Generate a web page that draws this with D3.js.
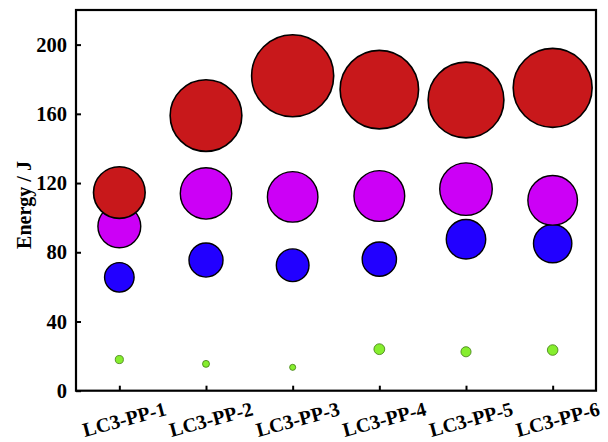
<!DOCTYPE html>
<html>
<head>
<meta charset="utf-8">
<script src="https://cdn.jsdelivr.net/npm/d3@7"></script>
<style>
  html, body { margin: 0; padding: 0; background: #fff; }
  svg { display: block; }
  text { font-family: "Liberation Serif", "Times New Roman", serif; font-weight: bold; fill: #000; }
</style>
</head>
<body>
<svg id="chart" width="608" height="442"></svg>
<script>
// Samples on the x axis
const categories = ["LC3-PP-1", "LC3-PP-2", "LC3-PP-3", "LC3-PP-4", "LC3-PP-5", "LC3-PP-6"];

// Energy values (J) per sample, one array per bubble series
const redValues     = [114.5, 159, 182, 174, 168, 175];
const magentaValues = [95, 114, 112, 112.5, 116.5, 110];
const blueValues    = [65.5, 75.5, 72.5, 76, 87.5, 85];
const greenValues   = [18, 15.5, 13.5, 24, 22.5, 23.5];

const yTicks = [0, 40, 80, 120, 160, 200];

// Series drawn back to front; bubble radius grows with the energy value
const series = [
  { values: greenValues,   fill: "#86ee2e", stroke: "#3f7a12", width: 0.8 },
  { values: blueValues,    fill: "#2200ff", stroke: "#000", width: 1.4 },
  { values: magentaValues, fill: "#cc00f6", stroke: "#000", width: 1.4 },
  { values: redValues,     fill: "#c8181b", stroke: "#000", width: 1.6 }
];

const margin = { left: 76, right: 12, top: 10, bottom: 51.3 };
const width = 608, height = 442;
const innerW = width - margin.left - margin.right;
const innerH = height - margin.top - margin.bottom;

const svg = d3.select("#chart");
const g = svg.append("g").attr("transform", `translate(${margin.left},${margin.top})`);

const x = d3.scalePoint().domain(categories).range([0, innerW]).padding(0.5);
const y = d3.scaleLinear().domain([0, 220]).range([innerH, 0]);
const r = d3.scaleLinear().domain([0, 200]).range([0, 45.1]);

// Bubbles
series.forEach(s => {
  g.append("g")
    .selectAll("circle")
    .data(categories.map((c, i) => ({ c, v: s.values[i] })))
    .join("circle")
    .attr("cx", d => x(d.c))
    .attr("cy", d => y(d.v))
    .attr("r", d => r(d.v))
    .attr("fill", s.fill)
    .attr("stroke", s.stroke)
    .attr("stroke-width", s.width);
});

// Y axis with inward ticks
const yAxis = g.append("g")
  .call(d3.axisLeft(y).tickValues(yTicks).tickSizeInner(-5).tickSizeOuter(0).tickPadding(9));
yAxis.select(".domain").remove();
yAxis.selectAll(".tick line").attr("stroke", "#000").attr("stroke-width", 2);
yAxis.selectAll(".tick text")
  .attr("font-size", 20.5)
  .attr("font-family", "'Liberation Serif', serif")
  .attr("font-weight", "bold")
  .attr("fill", "#000");

// X axis with inward ticks and slanted labels
const xAxis = g.append("g")
  .attr("transform", `translate(0,${innerH})`)
  .call(d3.axisBottom(x).tickSizeInner(-5).tickSizeOuter(0));
xAxis.select(".domain").remove();
xAxis.selectAll(".tick line").attr("stroke", "#000").attr("stroke-width", 2);
xAxis.selectAll(".tick text")
  .attr("font-size", 20)
  .attr("font-family", "'Liberation Serif', serif")
  .attr("font-weight", "bold")
  .attr("fill", "#000")
  .attr("text-anchor", "middle")
  .attr("dy", null)
  .attr("y", null)
  .attr("dominant-baseline", "central")
  .attr("transform", "translate(4.5,28.5) rotate(-15)");

// Frame
g.append("rect")
  .attr("x", 0).attr("y", 0)
  .attr("width", innerW).attr("height", innerH)
  .attr("fill", "none")
  .attr("stroke", "#000")
  .attr("stroke-width", 2.2);

// Y axis title
svg.append("text")
  .attr("transform", `translate(24,205) rotate(-90)`)
  .attr("text-anchor", "middle")
  .attr("dominant-baseline", "central")
  .attr("font-size", 20)
  .text("Energy / J");
</script>
</body>
</html>
